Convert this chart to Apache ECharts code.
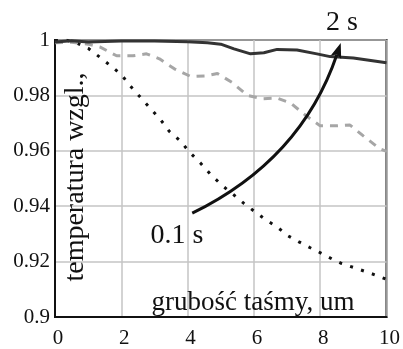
<!DOCTYPE html>
<html>
<head>
<meta charset="utf-8">
<script src="https://cdn.jsdelivr.net/npm/echarts@6/dist/echarts.min.js"></script>
<style>
  html, body { margin: 0; padding: 0; background: #fff; }
  #chart { width: 403px; height: 349px; }
</style>
</head>
<body>
<div id="chart"></div>
<script>
(function () {

    var FONT = "'Liberation Serif', 'Times New Roman', serif";

    // 2 s curve (solid)
    var solidX = [0, 0.5, 1, 2, 3, 4, 4.6, 5.0, 5.4, 5.9, 6.3, 6.7, 7.3, 7.9, 8.3, 9, 10];
    var solidY = [0.9993, 0.9997, 0.9993, 0.9996, 0.9996, 0.9994, 0.999, 0.9985, 0.9968, 0.995,
        0.9954, 0.9966, 0.9964, 0.995, 0.994, 0.9935, 0.9918];

    // intermediate curve (gray dashed)
    var dashX = [0, 0.5, 1, 1.35, 1.86, 2.35, 2.76, 3.15, 3.6, 4.1, 4.55, 4.9, 5.35, 5.8, 6.25,
        6.7, 7.1, 7.57, 8.0, 8.47, 8.9, 9.3, 9.8, 10];
    var dashY = [0.999, 0.9992, 0.9985, 0.9975, 0.9943, 0.9943, 0.995, 0.9932, 0.9896, 0.9868,
        0.987, 0.9879, 0.9846, 0.980, 0.9788, 0.979, 0.9773, 0.9727, 0.969, 0.969, 0.9693,
        0.9654, 0.9607, 0.9598];

    // 0.1 s curve (dotted)
    var dotX = [0, 0.3, 0.6, 1.0, 1.33, 1.68, 2.0, 2.3, 2.6, 2.9, 3.2, 3.45, 3.78, 4.05, 4.38,
        4.7, 5.04, 5.37, 5.7, 6.04, 6.37, 6.7, 7.03, 7.36, 7.7, 8.05, 8.35, 8.65, 9.0, 9.37, 9.7, 10];
    var dotY = [0.9998, 1.0, 0.9992, 0.997, 0.994, 0.9907, 0.9875, 0.983, 0.979, 0.975, 0.971,
        0.967, 0.9636, 0.9596, 0.9557, 0.9514, 0.9475, 0.9443, 0.941, 0.9379, 0.935, 0.9325,
        0.9293, 0.9271, 0.925, 0.9229, 0.921, 0.9193, 0.9179, 0.9164, 0.915, 0.9136];

    // arrow from 0.1 s to 2 s (start, control, end) in data units
    var arrowPts = [[4.14, 0.9375], [7.43, 0.9568], [8.62, 0.9989]];

    var xTicks = [0, 2, 4, 6, 8, 10];
    var yTicks = [0.9, 0.92, 0.94, 0.96, 0.98, 1];

    function zip(xs, ys) {
        return xs.map(function (x, i) { return [x, ys[i]]; });
    }

    var chart = echarts.init(document.getElementById('chart'), null, { renderer: 'canvas' });

    var option = {
        animation: false,
        backgroundColor: '#fff',
        grid: {
            left: 55, right: 15, top: 40, bottom: 28,
            show: true, borderColor: '#111', borderWidth: 2
        },
        xAxis: {
            type: 'value',
            min: xTicks[0], max: xTicks[xTicks.length - 1], interval: 2,
            axisLine: { show: true, lineStyle: { color: '#111', width: 2 } },
            axisTick: { show: false },
            axisLabel: {
                color: '#111', fontFamily: FONT, fontSize: 21, margin: 11,
                padding: [0, 0, 0, 6]
            },
            splitLine: { show: true, lineStyle: { color: '#c4c4c4', width: 1.5 } }
        },
        yAxis: {
            type: 'value',
            min: yTicks[0], max: yTicks[yTicks.length - 1], interval: 0.02,
            axisLine: { show: true, lineStyle: { color: '#111', width: 2 } },
            axisTick: { show: false },
            axisLabel: {
                color: '#111', fontFamily: FONT, fontSize: 21, margin: 5,
                formatter: function (v) { return String(+v.toFixed(2)); }
            },
            splitLine: { show: true, lineStyle: { color: '#c4c4c4', width: 1.5 } }
        },
        series: [
            {
                type: 'line', data: zip(dotX, dotY), showSymbol: false, z: 3,
                lineStyle: { color: '#111', width: 3, type: [3, 8.5] }
            },
            {
                type: 'line', data: zip(dashX, dashY), showSymbol: false, z: 3,
                lineStyle: { color: '#a6a6a6', width: 3, type: [8, 7] }
            },
            {
                type: 'line', data: zip(solidX, solidY), showSymbol: false, z: 4,
                lineStyle: { color: '#333', width: 3 }
            }
        ]
    };

    chart.setOption(option);

    // arrow, placed through the grid's own coordinate conversion
    var p = arrowPts.map(function (d) { return chart.convertToPixel({ gridIndex: 0 }, d); });
    var dx = p[2][0] - p[1][0], dy = p[2][1] - p[1][1];
    var len = Math.sqrt(dx * dx + dy * dy);
    var ux = dx / len, uy = dy / len;
    var headLen = 15, headW = 5.5;
    var bx = p[2][0] - ux * headLen, by = p[2][1] - uy * headLen;

    chart.setOption({
        graphic: [
            {
                type: 'bezierCurve', z: 10,
                shape: { x1: p[0][0], y1: p[0][1], cpx1: p[1][0], cpy1: p[1][1], x2: bx + ux * 3, y2: by + uy * 3 },
                style: { stroke: '#111', lineWidth: 3, fill: null }
            },
            {
                type: 'polygon', z: 10,
                shape: { points: [
                    [p[2][0], p[2][1]],
                    [bx - uy * headW, by + ux * headW],
                    [bx + ux * 3, by + uy * 3],
                    [bx + uy * headW, by - ux * headW]
                ] },
                style: { fill: '#111' }
            },
            {
                type: 'text', z: 10, x: 342, y: 23,
                style: { text: '2 s', font: '28px ' + FONT, fill: '#111', align: 'center', verticalAlign: 'middle' }
            },
            {
                type: 'text', z: 10, x: 177, y: 236,
                style: { text: '0.1 s', font: '28px ' + FONT, fill: '#111', align: 'center', verticalAlign: 'middle' }
            },
            {
                type: 'text', z: 10, x: 253, y: 303,
                style: { text: 'grubość taśmy, um', font: '27px ' + FONT, fill: '#111', align: 'center', verticalAlign: 'middle' }
            },
            {
                type: 'text', z: 10, x: 76, y: 177, rotation: Math.PI / 2,
                style: { text: 'temperatura wzgl.,', font: '28px ' + FONT, fill: '#111', align: 'center', verticalAlign: 'middle' }
            }
        ]
    });
})();
</script>
</body>
</html>
